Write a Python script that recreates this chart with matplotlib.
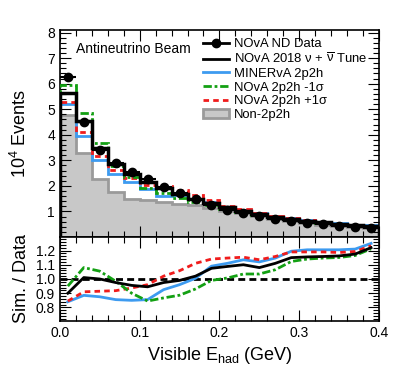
import numpy as np
import matplotlib
matplotlib.use("Agg")
import matplotlib.pyplot as plt
from matplotlib.ticker import MultipleLocator, FormatStrFormatter
from matplotlib.lines import Line2D
from matplotlib.patches import Patch

plt.rcParams['font.family'] = ['Liberation Sans', 'DejaVu Sans']
plt.rcParams['mathtext.fontset'] = 'custom'
plt.rcParams['mathtext.rm'] = 'Liberation Sans'
plt.rcParams['mathtext.it'] = 'Liberation Sans:italic'

# binning: visible hadronic energy (GeV)
edges = np.arange(0.0, 0.4001, 0.02)
centers = 0.5 * (edges[:-1] + edges[1:])

# events (10^4)
data = [6.26, 4.49, 3.42, 2.90, 2.55, 2.25, 1.95, 1.72, 1.47, 1.25,
        1.07, 0.94, 0.82, 0.70, 0.63, 0.55, 0.49, 0.44, 0.40, 0.36]
data_err = [0.06, 0.05, 0.04, 0.04, 0.03, 0.03, 0.03, 0.03, 0.02, 0.02,
            0.02, 0.02, 0.02, 0.02, 0.02, 0.02, 0.02, 0.02, 0.02, 0.02]
tune = [5.64, 4.53, 3.48, 2.86, 2.46, 2.15, 1.90, 1.70, 1.50, 1.34,
        1.16, 1.03, 0.89, 0.78, 0.72, 0.64, 0.57, 0.51, 0.47, 0.44]
minerva = [5.22, 3.97, 3.00, 2.48, 2.14, 1.86, 1.60, 1.65, 1.48, 1.36,
           1.19, 1.07, 0.92, 0.80, 0.75, 0.66, 0.59, 0.53, 0.48, 0.45]
minus1 = [5.96, 4.85, 3.66, 2.77, 2.36, 1.93, 1.73, 1.52, 1.37, 1.24,
          1.08, 0.97, 0.85, 0.75, 0.71, 0.63, 0.56, 0.51, 0.47, 0.44]
plus1 = [5.27, 4.10, 3.16, 2.64, 2.32, 2.03, 1.99, 1.82, 1.63, 1.43,
         1.23, 1.08, 0.93, 0.81, 0.75, 0.65, 0.58, 0.52, 0.48, 0.44]
non2p2h = [4.79, 3.29, 2.25, 1.75, 1.50, 1.43, 1.36, 1.31, 1.25, 1.14,
           1.01, 0.92, 0.82, 0.70, 0.62, 0.54, 0.48, 0.43, 0.39, 0.35]

# Sim. / Data ratios at bin centres
r_tune = [0.90, 1.01, 1.00, 0.975, 0.955, 0.945, 0.975, 0.99, 1.02, 1.075,
          1.088, 1.10, 1.08, 1.11, 1.15, 1.155, 1.158, 1.162, 1.175, 1.22]
r_minerva = [0.84, 0.885, 0.875, 0.855, 0.85, 0.855, 0.925, 0.96, 1.005, 1.09,
             1.11, 1.135, 1.12, 1.147, 1.195, 1.205, 1.205, 1.205, 1.21, 1.25]
r_plus1 = [0.845, 0.91, 0.914, 0.918, 0.937, 0.96, 1.02, 1.058, 1.11, 1.14,
           1.147, 1.153, 1.135, 1.158, 1.19, 1.19, 1.19, 1.186, 1.193, 1.233]
r_minus1 = [0.95, 1.08, 1.055, 0.984, 0.90, 0.845, 0.867, 0.886, 0.93, 0.99,
            1.007, 1.035, 1.035, 1.065, 1.123, 1.14, 1.147, 1.151, 1.165, 1.212]

c_blue = '#3d9bf0'
c_green = '#13a013'
c_red = '#f01c1c'
ls_green = (0, (3, 1, 1, 1))
ls_red = (0, (2, 1.5))

fig = plt.figure(figsize=(3.99, 3.66), dpi=100)
ax = fig.add_axes([0.150, 0.3525, 0.800, 0.5656])
axr = fig.add_axes([0.150, 0.123, 0.800, 0.2295])

# top panel
ax.stairs(non2p2h, edges, fill=True, color='#c8c8c8', zorder=1)
ax.stairs(non2p2h, edges, color='#9a9a9a', lw=2, zorder=1.5)
ax.stairs(minerva, edges, color=c_blue, lw=2, zorder=2)
ax.stairs(plus1, edges, color=c_red, lw=2, ls=ls_red, zorder=3)
ax.stairs(minus1, edges, color=c_green, lw=2, ls=ls_green, zorder=3)
ax.stairs(tune, edges, color='black', lw=2.5, zorder=4)
ax.errorbar(centers, data, xerr=0.01, yerr=data_err, fmt='o', color='black',
            ms=6, lw=1.5, capsize=0, zorder=5)

ax.set_xlim(0, 0.4)
ax.set_ylim(0, 8.1)
ax.set_yticks([1, 2, 3, 4, 5, 6, 7, 8])
ax.yaxis.set_minor_locator(MultipleLocator(0.2))
ax.set_ylabel('$\\mathregular{10^4}$ Events', fontsize=13)
ax.yaxis.set_label_coords(-0.095, 0.5)
ax.text(0.05, 0.94, 'Antineutrino Beam', transform=ax.transAxes,
        fontsize=10, va='top')

handles = [
    Line2D([], [], color='black', marker='o', ms=6, lw=2),
    Line2D([], [], color='black', lw=2),
    Line2D([], [], color=c_blue, lw=2),
    Line2D([], [], color=c_green, lw=2, ls=ls_green),
    Line2D([], [], color=c_red, lw=2, ls=ls_red),
    Patch(facecolor='#c8c8c8', edgecolor='#9a9a9a', lw=2),
]
labels = ['NOvA ND Data',
          'NOvA 2018 ν + $\\overline{\\mathregular{\\nu}}$ Tune',
          'MINERvA 2p2h', 'NOvA 2p2h -1σ', 'NOvA 2p2h +1σ', 'Non-2p2h']
ax.legend(handles, labels, loc='upper left', bbox_to_anchor=(0.448, 0.96),
          frameon=False, fontsize=9.4, handlelength=2.0, handletextpad=0.35,
          labelspacing=0.12, borderaxespad=0, borderpad=0)

# ratio panel
axr.axhline(1.0, color='black', lw=2, ls=(0, (2.5, 1.5)), zorder=1)
axr.plot(centers, r_minerva, color=c_blue, lw=2, zorder=2)
axr.plot(centers, r_plus1, color=c_red, lw=2, ls=ls_red, zorder=3)
axr.plot(centers, r_minus1, color=c_green, lw=2, ls=ls_green, zorder=3)
axr.plot(centers, r_tune, color='black', lw=2, zorder=4)
axr.set_xlim(0, 0.4)
axr.set_ylim(0.705, 1.295)
axr.set_yticks([0.8, 0.9, 1.0, 1.1, 1.2])
axr.yaxis.set_minor_locator(MultipleLocator(0.02))
axr.set_ylabel('Sim. / Data', fontsize=13)
axr.yaxis.set_label_coords(-0.095, 0.5)
axr.set_xlabel('Visible E$_{\\mathregular{had}}$ (GeV)', fontsize=13)

for a in (ax, axr):
    a.xaxis.set_major_locator(MultipleLocator(0.1))
    a.xaxis.set_minor_locator(MultipleLocator(0.02))
    a.tick_params(which='both', direction='in', top=True, right=True,
                  labelsize=10, width=0.8)
    a.tick_params(which='major', length=8)
    a.tick_params(which='minor', length=4)
    for s in a.spines.values():
        s.set_linewidth(1.2)
axr.xaxis.set_major_formatter(FormatStrFormatter('%.1f'))
axr.yaxis.set_major_formatter(FormatStrFormatter('%.1f'))
ax.tick_params(labelbottom=False)

fig.savefig('out.png', dpi=100)
